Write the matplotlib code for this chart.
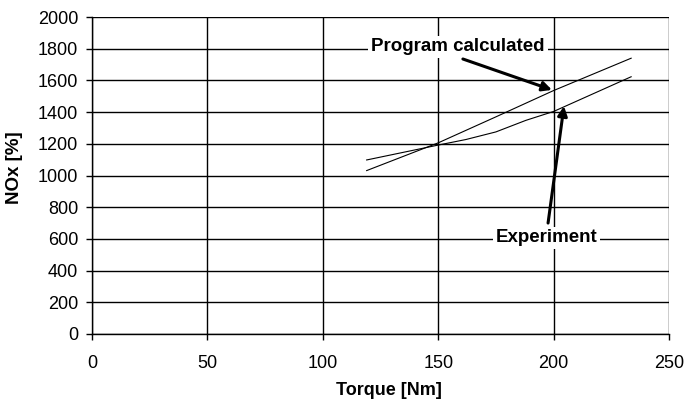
import matplotlib
matplotlib.use('Agg')
import matplotlib.pyplot as plt

# data
torque_program = [119, 150, 175, 200, 233.6]
nox_program = [1031, 1206, 1370, 1536, 1740]
torque_experiment = [119, 150, 162, 175, 188, 200, 233.6]
nox_experiment = [1098, 1192, 1227, 1275, 1348, 1404, 1623]

x_ticks = [0, 50, 100, 150, 200, 250]
y_ticks = list(range(0, 2001, 200))

plt.rcParams['font.family'] = ['Liberation Sans', 'DejaVu Sans']

fig = plt.figure(figsize=(6.84, 4.01), dpi=100)
ax = fig.add_axes([92 / 684, 1 - 334 / 401, 577 / 684, 317 / 401])

ax.plot(torque_program, nox_program, color='black', lw=0.8)
ax.plot(torque_experiment, nox_experiment, color='black', lw=0.8)

ax.set_xlim(0, 250)
ax.set_ylim(0, 2000)
ax.set_xticks(x_ticks)
ax.set_yticks(y_ticks)
ax.grid(True, color='black', lw=1.0)
ax.set_axisbelow(True)
for side in ['top', 'right']:
    ax.spines[side].set_visible(False)
ax.spines['left'].set_linewidth(1.0)
ax.spines['bottom'].set_linewidth(1.0)
ax.tick_params(direction='out', length=4, width=1.0, labelsize=13)
ax.tick_params(axis='x', pad=11)
ax.tick_params(axis='y', pad=6)

ax.set_xlabel('Torque [Nm]', fontsize=13, fontweight='bold')
ax.set_ylabel('NOx [%]', fontsize=13.5, fontweight='bold')
ax.xaxis.set_label_coords(0.515, -0.15)
ax.yaxis.set_label_coords(-0.12, 0.524)

arrow = dict(arrowstyle='-|>', color='black', lw=2.2, mutation_scale=14, shrinkA=0, shrinkB=0)
ax.annotate('Program calculated', xy=(199.3, 1540), xytext=(158.6, 1811),
            fontsize=13.5, fontweight='bold', ha='center', va='center',
            bbox=dict(boxstyle='square,pad=0.15', fc='white', ec='none'))
ax.annotate('', xy=(199.3, 1540), xytext=(160.7, 1735), arrowprops=arrow)
ax.annotate('Experiment', xy=(204.5, 1438), xytext=(197, 606),
            fontsize=13.5, fontweight='bold', ha='center', va='center',
            bbox=dict(boxstyle='square,pad=0.15', fc='white', ec='none'))
ax.annotate('', xy=(204.5, 1438), xytext=(197.6, 700), arrowprops=arrow)

fig.savefig('out.png', dpi=100)
